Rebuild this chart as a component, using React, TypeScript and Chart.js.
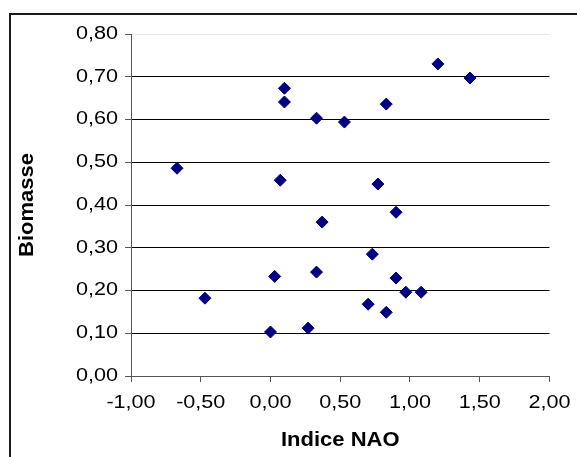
import React, { useEffect, useRef } from "react";
import { Chart, registerables } from "chart.js";

Chart.register(...registerables);

const naoIndex = [
  -0.67, 0.1, 0.1, 0.33, 0.53, 0.83, 1.2, 1.43, 0.07, 0.77, 0.9, 0.37,
  -0.47, 0.03, 0.0, 0.33, 0.27, 0.73, 0.9, 0.97, 1.08, 0.7, 0.83,
];
const biomasse = [
  0.486, 0.673, 0.641, 0.603, 0.594, 0.636, 0.73, 0.697, 0.458, 0.449, 0.383, 0.36,
  0.182, 0.233, 0.103, 0.243, 0.112, 0.285, 0.229, 0.196, 0.196, 0.168, 0.149,
];
const xTitle = "Indice NAO";
const yTitle = "Biomasse";

const fmt = (v: number) => Number(v).toFixed(2).replace(".", ",");

// Excel renders its text horizontally wider than the canvas default; stretch glyphs a little.
const stretchPlugin = {
  id: "stretch",
  beforeDraw(chart: any) {
    const ctx = chart.ctx;
    if (!ctx.__origFillText) {
      const orig = ctx.fillText;
      ctx.__origFillText = orig;
      ctx.fillText = function (t: string, x: number, y: number, m?: number) {
        const sx = String(this.font).includes("bold") ? 1.1 : 1.2;
        this.save();
        this.translate(x, y);
        this.scale(sx, 1);
        orig.call(this, t, 0, 0);
        this.restore();
      };
    }
  },
  afterDraw(chart: any) {
    const ctx = chart.ctx;
    if (ctx.__origFillText) {
      ctx.fillText = ctx.__origFillText;
      delete ctx.__origFillText;
    }
    ctx.save();
    ctx.strokeStyle = "#1a1a1a";
    ctx.lineWidth = 2;
    ctx.beginPath();
    ctx.moveTo(10, 470);
    ctx.lineTo(10, 14);
    ctx.lineTo(590, 14);
    ctx.stroke();
    ctx.restore();
  },
};

export default function App() {
  const ref = useRef<HTMLCanvasElement | null>(null);
  useEffect(() => {
    if (!ref.current) return;
    const data = naoIndex.map((x, i) => ({ x, y: biomasse[i] }));
    const chart = new Chart(ref.current, {
      type: "scatter",
      data: {
        datasets: [
          {
            label: yTitle,
            data,
            pointStyle: "rectRot",
            pointRadius: 6,
            pointBackgroundColor: "#000080",
            pointBorderColor: "#000080",
            pointBorderWidth: 1,
          },
        ],
      },
      options: {
        animation: false,
        responsive: false,
        maintainAspectRatio: false,
        layout: { padding: { left: 0, right: 26, top: 34, bottom: 0 } },
        plugins: { legend: { display: false }, tooltip: { enabled: false } },
        scales: {
          x: {
            type: "linear",
            min: -1,
            max: 2,
            afterFit: (s: any) => {
              s.height = 81;
            },
            border: { display: true, color: "#555", width: 1 },
            grid: {
              drawOnChartArea: false,
              drawTicks: true,
              tickLength: 6,
              tickColor: "#555",
            },
            ticks: {
              stepSize: 0.5,
              color: "#000",
              padding: 10,
              font: { family: "'Liberation Sans', Arial", size: 18 },
              callback: (v: any) => fmt(v),
            },
            title: {
              display: true,
              text: xTitle,
              color: "#000",
              font: { family: "'Liberation Sans', Arial", size: 20, weight: "bold" },
              padding: { top: 0, bottom: 5 },
            },
          },
          y: {
            type: "linear",
            min: 0,
            max: 0.8,
            afterFit: (s: any) => {
              s.width = 131;
            },
            border: { display: true, color: "#555", width: 1 },
            grid: {
              drawOnChartArea: true,
              drawTicks: true,
              tickLength: 6,
              tickColor: "#555",
              lineWidth: 1,
              color: (c: any) =>
                c.tick && Math.abs(c.tick.value - 0.8) < 1e-6 ? "#e6e6e6" : "#000",
            },
            ticks: {
              stepSize: 0.1,
              color: "#000",
              padding: 7,
              font: { family: "'Liberation Sans', Arial", size: 18 },
              callback: (v: any) => fmt(v),
            },
            title: {
              display: true,
              text: yTitle,
              color: "#000",
              font: { family: "'Liberation Sans', Arial", size: 20, weight: "bold" },
              padding: { top: 15, bottom: 0 },
            },
          },
        },
      },
      plugins: [stretchPlugin],
    });
    return () => chart.destroy();
  }, []);
  return (
    <div style={{ position: "fixed", left: 0, top: 0, width: 577, height: 457, background: "#fff" }}>
      <canvas ref={ref} width={577} height={457} style={{ display: "block", width: 577, height: 457 }} />
    </div>
  );
}
